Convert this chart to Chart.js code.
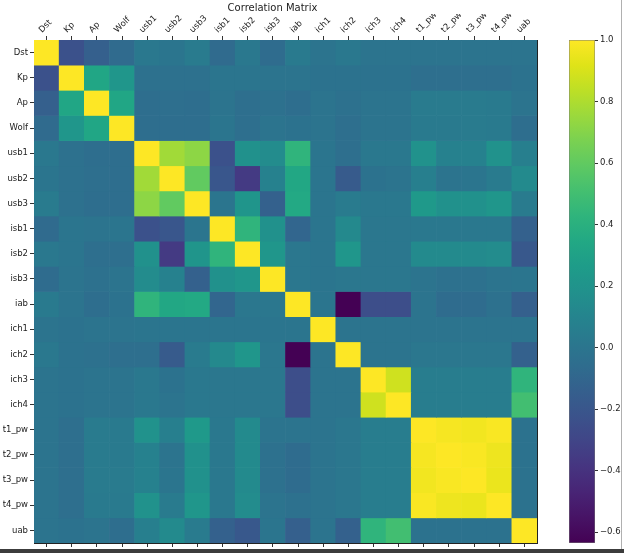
<!DOCTYPE html>
<html>
<head>
<meta charset="utf-8">
<script src="https://cdn.jsdelivr.net/npm/chart.js@4.4.1/dist/chart.umd.min.js"></script>
<style>
  body { margin: 0; background: #fff; width: 624px; height: 553px; position: relative; overflow: hidden; }
  #heat { position: absolute; left: 0; top: 0; width: 545px; height: 553px; }
  #cbar { position: absolute; left: 560px; top: 0; width: 64px; height: 553px; }
  .edge-b { position: absolute; left: 0; top: 549px; width: 624px; height: 4px; background: #3c3c3c; }
  .edge-r { position: absolute; left: 621px; top: 0; width: 1px; height: 549px; background: #b0b0b0; }
</style>
</head>
<body>
<div id="heat"><canvas id="heatChart"></canvas></div>
<div id="cbar"><canvas id="cbarChart"></canvas></div>
<div class="edge-b"></div>
<div class="edge-r"></div>
<script>
const names = ["Dst", "Kp", "Ap", "Wolf", "usb1", "usb2", "usb3", "isb1", "isb2", "isb3",
  "iab", "ich1", "ich2", "ich3", "ich4", "t1_pw", "t2_pw", "t3_pw", "t4_pw", "uab"];

// one row of the correlation matrix per variable
const rowDst  = [1, -0.23, -0.14, -0.07, 0.02, 0.00, 0.04, -0.07, 0.02, -0.06, 0.03, -0.01, 0.02, -0.01, -0.01, -0.01, -0.01, -0.01, -0.01, -0.01];
const rowKp   = [-0.23, 1, 0.33, 0.22, -0.03, -0.03, -0.03, 0.00, 0.00, -0.01, -0.01, -0.02, -0.02, -0.02, -0.02, -0.04, -0.04, -0.04, -0.04, -0.02];
const rowAp   = [-0.14, 0.33, 1, 0.33, -0.05, -0.04, -0.05, -0.01, -0.04, -0.03, -0.05, -0.01, -0.03, -0.01, -0.01, 0.04, 0.04, 0.04, 0.03, -0.01];
const rowWolf = [-0.07, 0.22, 0.33, 1, -0.05, -0.05, -0.05, 0.00, -0.04, -0.01, -0.02, -0.01, -0.04, -0.01, -0.01, 0.03, 0.03, 0.04, 0.03, -0.05];
const rowUsb1 = [0.02, -0.03, -0.05, -0.05, 1, 0.77, 0.72, -0.23, 0.18, 0.15, 0.43, 0.00, -0.04, 0.02, 0.02, 0.19, 0.08, 0.08, 0.19, 0.07];
const rowUsb2 = [0.00, -0.03, -0.04, -0.05, 0.77, 1, 0.60, -0.20, -0.36, 0.08, 0.34, 0.00, -0.17, -0.02, -0.01, 0.07, -0.01, 0.00, 0.04, 0.14];
const rowUsb3 = [0.04, -0.03, -0.05, -0.05, 0.72, 0.60, 1, 0.00, 0.21, -0.13, 0.35, 0.00, 0.04, 0.02, 0.02, 0.24, 0.18, 0.18, 0.22, 0.04];
const rowIsb1 = [-0.07, 0.00, -0.01, 0.00, -0.23, -0.20, 0.00, 1, 0.43, 0.18, -0.10, 0.00, 0.13, 0.01, 0.01, 0.02, 0.02, 0.02, 0.02, -0.13];
const rowIsb2 = [0.02, 0.00, -0.04, -0.04, 0.18, -0.36, 0.21, 0.43, 1, 0.22, 0.01, 0.00, 0.22, 0.01, 0.01, 0.14, 0.14, 0.14, 0.15, -0.19];
const rowIsb3 = [-0.06, -0.01, -0.03, -0.01, 0.15, 0.08, -0.13, 0.18, 0.22, 1, 0.01, 0.00, 0.01, 0.01, 0.01, -0.01, -0.03, -0.03, -0.01, 0.00];
const rowIab  = [0.03, -0.01, -0.05, -0.02, 0.43, 0.34, 0.35, -0.10, 0.01, 0.01, 1, 0.00, -0.635, -0.25, -0.25, -0.01, -0.06, -0.06, -0.03, -0.14];
const rowIch1 = [-0.01, -0.02, -0.01, -0.01, 0.00, 0.00, 0.00, 0.00, 0.00, 0.00, 0.00, 1, -0.01, -0.01, -0.01, -0.01, -0.01, -0.01, -0.01, -0.01];
const rowIch2 = [0.02, -0.02, -0.03, -0.04, -0.04, -0.17, 0.04, 0.13, 0.22, 0.01, -0.635, -0.01, 1, -0.01, -0.01, 0.01, 0.01, 0.01, 0.01, -0.13];
const rowIch3 = [-0.01, -0.02, -0.01, -0.01, 0.02, -0.02, 0.02, 0.01, 0.01, 0.01, -0.25, -0.01, -0.01, 1, 0.88, 0.05, 0.05, 0.05, 0.05, 0.43];
const rowIch4 = [-0.01, -0.02, -0.01, -0.01, 0.02, -0.01, 0.02, 0.01, 0.01, 0.01, -0.25, -0.01, -0.01, 0.88, 1, 0.05, 0.05, 0.05, 0.05, 0.50];
const rowT1   = [-0.01, -0.04, 0.04, 0.03, 0.19, 0.07, 0.24, 0.02, 0.14, -0.01, -0.01, -0.01, 0.01, 0.05, 0.05, 1, 0.98, 0.97, 0.99, -0.02];
const rowT2   = [-0.01, -0.04, 0.04, 0.03, 0.08, -0.01, 0.18, 0.02, 0.14, -0.03, -0.06, -0.01, 0.01, 0.05, 0.05, 0.98, 1, 0.99, 0.96, -0.02];
const rowT3   = [-0.01, -0.04, 0.04, 0.04, 0.08, 0.00, 0.18, 0.02, 0.14, -0.03, -0.06, -0.01, 0.01, 0.05, 0.05, 0.97, 0.99, 1, 0.95, -0.02];
const rowT4   = [-0.01, -0.04, 0.03, 0.03, 0.19, 0.04, 0.22, 0.02, 0.15, -0.01, -0.03, -0.01, 0.01, 0.05, 0.05, 0.99, 0.96, 0.95, 1, -0.02];
const rowUab  = [-0.01, -0.02, -0.01, -0.05, 0.07, 0.14, 0.04, -0.13, -0.19, 0.00, -0.14, -0.01, -0.13, 0.43, 0.50, -0.02, -0.02, -0.02, -0.02, 1];

const cbarTicks = [-0.6, -0.4, -0.2, 0.0, 0.2, 0.4, 0.6, 0.8, 1.0];

const matrix = [rowDst, rowKp, rowAp, rowWolf, rowUsb1, rowUsb2, rowUsb3, rowIsb1, rowIsb2, rowIsb3,
  rowIab, rowIch1, rowIch2, rowIch3, rowIch4, rowT1, rowT2, rowT3, rowT4, rowUab];

const vmin = Math.min(...matrix.flat());
const vmax = 1;

// viridis colormap stops (every 0.05)
const viridis = ["#440154", "#471365", "#482475", "#463480", "#414487", "#3b528b", "#355f8d",
  "#2f6c8e", "#2a788e", "#25848e", "#21918c", "#1e9c89", "#22a884", "#2fb47c", "#44bf70",
  "#5ec962", "#7ad151", "#9bd93c", "#bddf26", "#dfe318", "#fde725"];

function hexRgb(h) {
  return [parseInt(h.slice(1, 3), 16), parseInt(h.slice(3, 5), 16), parseInt(h.slice(5, 7), 16)];
}

function colorFor(v) {
  let t = (v - vmin) / (vmax - vmin);
  t = Math.max(0, Math.min(1, t));
  const pos = t * (viridis.length - 1);
  const i = Math.min(Math.floor(pos), viridis.length - 2);
  const f = pos - i;
  const a = hexRgb(viridis[i]), b = hexRgb(viridis[i + 1]);
  const c = a.map((x, k) => Math.round(x + (b[k] - x) * f));
  return `rgb(${c[0]},${c[1]},${c[2]})`;
}

const font = { family: "DejaVu Sans", size: 8.5 };
const textColor = "#222";

// each row becomes a set of floating bars spanning [r, r+1] on the y axis
const datasets = matrix.map((row, r) => ({
  data: names.map(() => [r, r + 1]),
  backgroundColor: row.map(colorFor),
  borderWidth: 0,
  grouped: false,
  barPercentage: 1,
  categoryPercentage: 1
}));

new Chart(document.getElementById("heatChart"), {
  type: "bar",
  data: { labels: names, datasets },
  options: {
    responsive: true,
    maintainAspectRatio: false,
    animation: false,
    layout: { padding: 0 },
    plugins: {
      legend: { display: false },
      tooltip: { enabled: false },
      title: {
        display: true,
        text: "Correlation Matrix",
        color: textColor,
        font: { family: "DejaVu Sans", size: 10, weight: "normal" },
        padding: { top: 2, bottom: 0 }
      }
    },
    scales: {
      x: {
        position: "top",
        offset: true,
        grid: { offset: false, drawOnChartArea: false, tickLength: 4, color: "#333" },
        border: { display: true, color: "#222" },
        ticks: { color: textColor, font, minRotation: 45, maxRotation: 45, autoSkip: false, padding: 1, labelOffset: 1 },
        afterFit: s => { s.height = 26; }
      },
      x2: {
        type: "category",
        position: "bottom",
        offset: true,
        grid: { offset: false, drawOnChartArea: false, tickLength: 4, color: "#333" },
        border: { display: true, color: "#222" },
        ticks: { display: false },
        afterFit: s => { s.height = 10; }
      },
      y: {
        type: "linear",
        min: 0,
        max: 20,
        reverse: true,
        grid: { drawOnChartArea: false, tickLength: 4, color: "#333" },
        border: { display: true, color: "#222" },
        afterBuildTicks: s => { s.ticks = names.map((_, i) => ({ value: i + 0.5 })); },
        ticks: { color: textColor, font, autoSkip: false, padding: 2, callback: v => names[Math.floor(v)] },
        afterFit: s => { s.width = 34; }
      },
      y2: {
        type: "linear",
        position: "right",
        min: 0,
        max: 20,
        grid: { drawOnChartArea: false, drawTicks: false },
        border: { display: true, color: "#222" },
        ticks: { display: false },
        afterFit: s => { s.width = 8; }
      }
    }
  }
});

// colorbar: one floating bar from vmin to vmax filled with the colormap
new Chart(document.getElementById("cbarChart"), {
  type: "bar",
  data: {
    labels: [""],
    datasets: [{
      data: [[vmin, vmax]],
      backgroundColor: ctx => {
        const area = ctx.chart.chartArea;
        if (!area) return viridis[10];
        const g = ctx.chart.ctx.createLinearGradient(0, area.bottom, 0, area.top);
        viridis.forEach((c, i) => g.addColorStop(i / (viridis.length - 1), c));
        return g;
      },
      borderColor: "#777",
      borderWidth: 0.8,
      borderSkipped: false,
      barPercentage: 1,
      categoryPercentage: 1
    }]
  },
  options: {
    responsive: true,
    maintainAspectRatio: false,
    animation: false,
    layout: { padding: { left: 9, top: 40, bottom: 10, right: 0 } },
    plugins: { legend: { display: false }, tooltip: { enabled: false } },
    scales: {
      x: { display: false },
      y: {
        position: "right",
        min: vmin,
        max: vmax,
        grid: { drawOnChartArea: false, tickLength: 3, color: "#333" },
        border: { display: false },
        afterBuildTicks: s => { s.ticks = cbarTicks.map(v => ({ value: v })); },
        ticks: { color: textColor, font, padding: 2, callback: v => v.toFixed(1).replace("-", "\u2212") },
        afterFit: s => { s.width = 29; }
      }
    }
  }
});
</script>
</body>
</html>
